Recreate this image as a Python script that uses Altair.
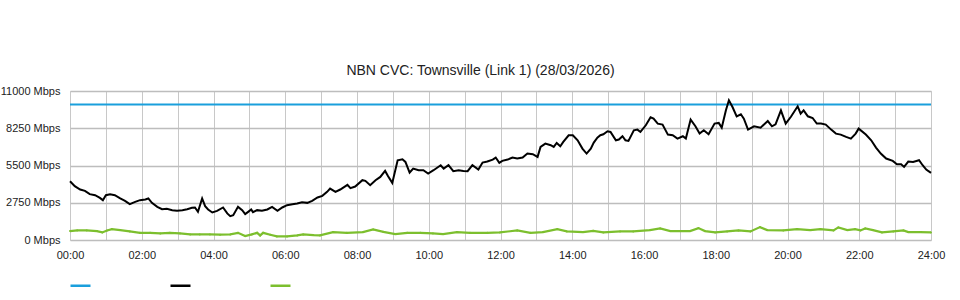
import altair as alt
import pandas as pd

# Black series (minutes after midnight, Mbps)
black_min = [0, 8, 17, 25, 33, 42, 50, 55, 60, 67, 75, 84, 92, 100, 109, 117, 126, 131, 137, 146,
             154, 162, 171, 179, 188, 196, 204, 209, 214, 221, 226, 231, 238, 246, 256, 263, 268, 273,
             281, 288, 293, 298, 303, 306, 313, 321, 330, 338, 347, 355, 363, 372, 380, 388, 397, 405,
             414, 422, 430, 435, 444, 452, 464, 469, 477, 489, 494, 502, 511, 519, 527, 532, 539, 548,
             556, 561, 568, 574, 583, 591, 599, 608, 620, 625, 633, 641, 650, 658, 665, 673, 683, 690,
             698, 707, 712, 718, 723, 732, 740, 748, 757, 765, 774, 782, 787, 795, 804, 809, 814, 820,
             825, 834, 841, 849, 857, 864, 871, 876, 882, 887, 892, 899, 904, 913, 918, 924, 929, 934,
             943, 949, 954, 963, 971, 976, 983, 991, 1000, 1008, 1016, 1025, 1030, 1038, 1046, 1053,
             1060, 1068, 1078, 1085, 1090, 1097, 1102, 1108, 1115, 1122, 1127, 1134, 1144, 1155, 1167,
             1174, 1180, 1189, 1197, 1206, 1217, 1222, 1227, 1234, 1242, 1249, 1256, 1264, 1273, 1281,
             1289, 1298, 1306, 1314, 1319, 1331, 1340, 1348, 1356, 1365, 1376, 1383, 1390, 1395, 1402,
             1410, 1420, 1426, 1432, 1440]
black_val = [4341, 3973, 3727, 3626, 3383, 3310, 3110, 2941, 3310, 3383, 3310, 3066, 2889, 2646, 2816,
             2941, 2992, 3066, 2742, 2447, 2277, 2300, 2204, 2153, 2204, 2277, 2373, 2401, 2079, 3066,
             2498, 2252, 2034, 2153, 2401, 1961, 1761, 1835, 2447, 2204, 1909, 2079, 2252, 2056, 2204,
             2153, 2252, 2447, 2153, 2401, 2572, 2646, 2695, 2793, 2742, 2889, 3137, 3260, 3554, 3800,
             3554, 3727, 4070, 3825, 3948, 4415, 4365, 4046, 4415, 4659, 5101, 4710, 4218, 5889, 5962,
             5766, 4980, 5274, 5152, 5152, 4906, 5152, 5520, 5274, 5520, 5078, 5152, 5101, 5078, 5520,
             5201, 5717, 5791, 5938, 6086, 5692, 5842, 5938, 6086, 6012, 6086, 6381, 6331, 6135, 6872,
             7118, 6995, 6872, 7167, 6920, 7241, 7732, 7732, 7363, 6749, 6381, 6749, 7191, 7560, 7732,
             7806, 8026, 7976, 7363, 7412, 7658, 7363, 7314, 8100, 8149, 7976, 8468, 9055, 8960, 8592,
             8519, 7781, 7732, 7485, 7658, 7485, 8887, 8395, 7854, 8100, 7806, 8592, 8642, 8297, 9573,
             10311, 9819, 9132, 9280, 8960, 8149, 8395, 8297, 8784, 8395, 8543, 9573, 8592, 9115, 9869,
             9327, 9573, 9132, 9009, 8592, 8592, 8519, 8149, 7854, 7781, 7609, 7485, 7854, 8223, 7781,
             7363, 6822, 6381, 6012, 5839, 5594, 5594, 5397, 5791, 5766, 5889, 5520, 5201, 4955]

# Green series
green_min = [0, 12, 28, 45, 54, 62, 70, 84, 100, 117, 134, 151, 167, 184, 201, 217, 234, 251, 268, 281,
             293, 304, 313, 318, 323, 335, 346, 363, 380, 390, 407, 418, 440, 463, 490, 507, 524, 544,
             564, 586, 607, 624, 647, 669, 698, 719, 748, 770, 791, 815, 831, 858, 875, 892, 920, 942,
             970, 987, 1004, 1037, 1051, 1062, 1079, 1099, 1118, 1138, 1154, 1166, 1193, 1216, 1238,
             1255, 1277, 1285, 1300, 1313, 1322, 1330, 1343, 1358, 1377, 1394, 1402, 1422, 1440]
green_val = [656, 707, 707, 656, 560, 707, 803, 730, 634, 530, 530, 486, 530, 486, 413, 413, 413, 390,
             413, 530, 287, 413, 530, 336, 530, 390, 265, 265, 336, 413, 360, 339, 582, 530, 582, 781,
             604, 435, 530, 530, 486, 435, 582, 530, 530, 560, 707, 530, 582, 803, 634, 582, 680, 560,
             634, 634, 730, 855, 656, 656, 877, 656, 560, 634, 707, 634, 951, 730, 707, 803, 730, 803,
             707, 929, 730, 803, 707, 855, 730, 560, 634, 707, 582, 582, 560]

# Blue series (capacity)
blue_min = [0, 1440]
blue_val = [10000, 10000]

series_names = ["Capacity", "Traffic", "Other"]
series_colors = ["#1a9fdc", "#000000", "#7cbf2e"]

df_blue = pd.DataFrame({"t": blue_min, "v": blue_val, "s": series_names[0]})
df_black = pd.DataFrame({"t": black_min, "v": black_val, "s": series_names[1]})
df_green = pd.DataFrame({"t": green_min, "v": green_val, "s": series_names[2]})

x_ticks = list(range(0, 1441, 60))
y_ticks = [0, 2750, 5500, 8250, 11000]

FONT = "Liberation Sans"

color = alt.Color(
    "s:N",
    scale=alt.Scale(domain=series_names, range=series_colors),
    legend=alt.Legend(
        title=None,
        orient="none",
        legendX=-1,
        legendY=183,
        direction="horizontal",
        symbolType="stroke",
        symbolSize=400,
        symbolStrokeWidth=2.5,
        labelExpr="''",
        labelOffset=0,
        columnPadding=69,
    ),
)

x = alt.X(
    "t:Q",
    scale=alt.Scale(domain=[0, 1440], nice=False, zero=False),
    axis=alt.Axis(
        title=None,
        values=x_ticks,
        labelExpr="datum.value % 120 == 0 ? ((datum.value < 600 ? '0' : '') + floor(datum.value / 60) + ':00') : ''",
        ticks=False,
        domain=False,
        grid=True,
        gridColor="#c8c8c8",
        gridWidth=1,
        labelFont=FONT,
        labelFontSize=11,
        labelColor="#222222",
        labelPadding=9,
        labelFlush=False,
        labelOverlap=False,
    ),
)
y = alt.Y(
    "v:Q",
    scale=alt.Scale(domain=[0, 11000], nice=False),
    axis=alt.Axis(
        title=None,
        values=y_ticks,
        labelExpr="datum.value + ' Mbps'",
        ticks=False,
        domain=False,
        grid=True,
        gridColor="#bdbdbd",
        gridWidth=1.5,
        labelFont=FONT,
        labelFontSize=11,
        labelColor="#222222",
        labelPadding=10,
    ),
)

base = alt.Chart().encode(x=x, y=y, color=color)

blue = base.mark_line(strokeWidth=2).properties(data=df_blue)
green = base.mark_line(strokeWidth=2.2, point=alt.OverlayMarkDef(size=4, filled=True)).properties(data=df_green)
black = base.mark_line(strokeWidth=2).properties(data=df_black)

chart = alt.layer(blue, green, black).properties(
    width=861,
    height=149,
    autosize=alt.AutoSizeParams(type="none"),
    padding={"left": 70, "top": 91, "right": 29, "bottom": 60},
    title=alt.TitleParams(
        text="NBN CVC: Townsville (Link 1) (28/03/2026)",
        font=FONT,
        fontSize=14,
        fontWeight="normal",
        color="#222222",
        anchor="middle",
        dx=-20,
        offset=7,
    ),
).configure_view(stroke=None).configure(background="white")

chart.save("out.html", embed_options={"renderer": "svg", "actions": False})
